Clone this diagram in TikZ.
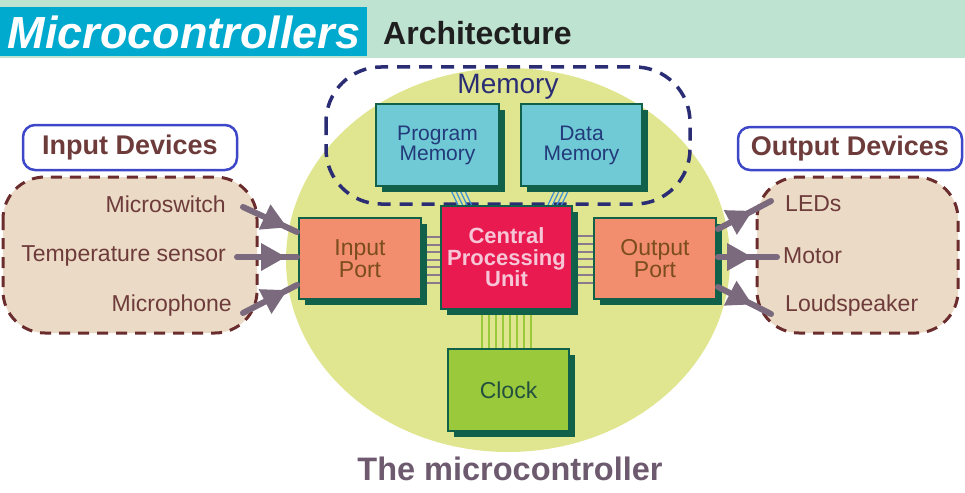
\documentclass[tikz,border=0pt]{standalone}
\usepackage{fontspec}
\setmainfont{Liberation Sans}
\usetikzlibrary{arrows.meta,calc,shadows,decorations.markings}
\definecolor{hdrband}{HTML}{BEE3D1}
\definecolor{hdrblue}{HTML}{00A9CE}
\definecolor{ygbg}{HTML}{E0E590}
\definecolor{navy}{HTML}{2A2D74}
\definecolor{memtext}{HTML}{233A7A}
\definecolor{cyanbox}{HTML}{70CAD6}
\definecolor{dkgreen}{HTML}{10604A}
\definecolor{cpured}{HTML}{E81A50}
\definecolor{cputext}{HTML}{F7C6D6}
\definecolor{salmon}{HTML}{F28E6E}
\definecolor{porttext}{HTML}{7A4C1E}
\definecolor{clockg}{HTML}{9ACA3C}
\definecolor{clocktext}{HTML}{23503E}
\definecolor{devfill}{HTML}{EBDAC5}
\definecolor{devborder}{HTML}{6A2C2C}
\definecolor{devtext}{HTML}{6E3B3B}
\definecolor{lblblue}{HTML}{3D47C8}
\definecolor{arrowcol}{HTML}{7B6A7D}
\definecolor{pincol}{HTML}{8A7A8C}
\definecolor{linkblue}{HTML}{3C8FD6}
\definecolor{titlecol}{HTML}{6D5A6F}
\tikzset{
  chip/.style={draw=dkgreen, line width=2.5pt, inner sep=0pt, align=center,
    drop shadow={shadow xshift=6pt, shadow yshift=-6pt, fill=dkgreen, opacity=1}},
  devbox/.style={draw=devborder, fill=devfill, line width=3pt, dash pattern=on 11pt off 8pt, rounded corners=42pt},
  lblbox/.style={draw=lblblue, line width=2.5pt, rounded corners=12pt, fill=white},
  lbltext/.style={font=\fontsize{27}{27}\selectfont\bfseries, text=devtext},
  devitem/.style={font=\fontsize{23}{23}\selectfont, text=devtext, inner sep=0pt},
  inarrow/.style={draw=arrowcol, line width=6pt, line cap=round, postaction={decorate},
    decoration={markings, mark=at position #1 with {\arrow[arrowcol]{Triangle[length=25pt,width=26pt]}}}},
  pin/.style={draw=pincol, line width=2pt},
  clkpin/.style={draw=clockg, line width=2pt},
  memlink/.style={draw=linkblue, line width=1.2pt},
}
\begin{document}
\begin{tikzpicture}[x=1pt,y=-1pt]
\useasboundingbox (0,0) rectangle (965,492);
% header
\fill[hdrband] (0,0) rectangle (965,58);
\fill[hdrblue] (0,7) rectangle (367,56);
\node[text=white, font=\fontsize{45}{45}\selectfont\bfseries\itshape, inner sep=0pt] (t1) at (184,32) {Microcontrollers};
\node[text=black!88, font=\fontsize{32}{32}\selectfont\bfseries, anchor=west, inner sep=0pt] (t2) at (383,33) {Architecture};
% background ellipse
\fill[ygbg] (508,260) ellipse [x radius=222pt, y radius=192pt];
% memory group
\draw[navy, line width=3.5pt, dash pattern=on 13pt off 9pt, rounded corners=55pt] (326,67) rectangle (690,204);
\node[text=navy, font=\fontsize{28}{28}\selectfont, inner sep=0pt] (memlbl) at (508,87) {Memory};
% device groups
\draw[devbox] (3,177) rectangle (257,333);
\draw[devbox] (757,177) rectangle (958,333);
\node[lblbox, minimum width=214pt, minimum height=45pt] (inlbl) at (130,147.5) {};
\node[lbltext] at (inlbl) {Input Devices};
\node[lblbox, minimum width=224pt, minimum height=43pt] (outlbl) at (850,148.5) {};
\node[lbltext] at (outlbl) {Output Devices};
% pins and links (behind chips)
\coordinate (ipc) at (360,258.5);
\coordinate (cpuc) at (506.5,257.5);
\coordinate (opc) at (655,258.5);
\foreach \i in {0,...,6}{
  \draw[pin] (420,237+7.6*\i) -- (442,237+7.6*\i);
  \draw[pin] (572,236+7.8*\i) -- (594,236+7.8*\i);
}
\foreach \i in {0,...,7}{
  \draw[clkpin] (482+7*\i,305) -- (482+7*\i,350);
}
\foreach \i in {0,...,3}{
  \draw[memlink] (449+4.5*\i,186) -- (459+4.5*\i,207);
  \draw[memlink] (557+4.5*\i,186) -- (547+4.5*\i,207);
}
% chips
\node[chip, fill=cyanbox, minimum width=123pt, minimum height=82pt, text=memtext,
  font=\fontsize{21}{20}\selectfont] (pm) at (437.5,145) {Program\\Memory};
\node[chip, fill=cyanbox, minimum width=121pt, minimum height=82pt, text=memtext,
  font=\fontsize{21}{20}\selectfont] (dm) at (581.5,145) {Data\\Memory};
\node[chip, fill=cpured, minimum width=131pt, minimum height=103pt, text=cputext,
  font=\fontsize{22}{21.5}\selectfont\bfseries] (cpu) at (cpuc) {Central\\Processing\\Unit};
\node[chip, fill=salmon, minimum width=122pt, minimum height=81pt, text=porttext,
  font=\fontsize{23}{22}\selectfont] (ip) at (ipc) {Input\\Port};
\node[chip, fill=salmon, minimum width=122pt, minimum height=81pt, text=porttext,
  font=\fontsize{23}{22}\selectfont] (op) at (opc) {Output\\Port};
\node[chip, fill=clockg, minimum width=121pt, minimum height=82pt, text=clocktext,
  font=\fontsize{23}{23}\selectfont] (clk) at (508.5,390) {Clock};
% device items
\node[devitem, anchor=east] (ms) at (226,204) {Microswitch};
\node[devitem, anchor=east] (ts) at (226,256) {Temperature sensor};
\node[devitem, anchor=east] (mp) at (232,306) {Microphone};
\node[devitem, anchor=west] (led) at (785,204) {LEDs};
\node[devitem, anchor=west] (mot) at (783,256) {Motor};
\node[devitem, anchor=west] (ls) at (785,306) {Loudspeaker};
% arrows
\coordinate (msa) at (243,207);
\coordinate (tsa) at (237,257);
\coordinate (mpa) at (243,313);
\coordinate (ipa) at (297,232);
\coordinate (ipb) at (297,257);
\coordinate (ipc2) at (297,285);
\draw[inarrow=0.82] (msa) -- (ipa);
\draw[inarrow=0.82] (tsa) -- (ipb);
\draw[inarrow=0.82] (mpa) -- (ipc2);
\coordinate (opa) at (718,229);
\coordinate (opb) at (718,257);
\coordinate (opc2) at (718,287);
\coordinate (leda) at (771,201);
\coordinate (mota) at (777,257);
\coordinate (lsa) at (771,314);
\draw[inarrow=0.65] (opa) -- (leda);
\draw[inarrow=0.58] (opb) -- (mota);
\draw[inarrow=0.65] (opc2) -- (lsa);
% title
\node[text=titlecol, font=\fontsize{32.5}{32.5}\selectfont\bfseries, inner sep=0pt] (title) at (510,469) {The microcontroller};
\end{tikzpicture}
\end{document}
